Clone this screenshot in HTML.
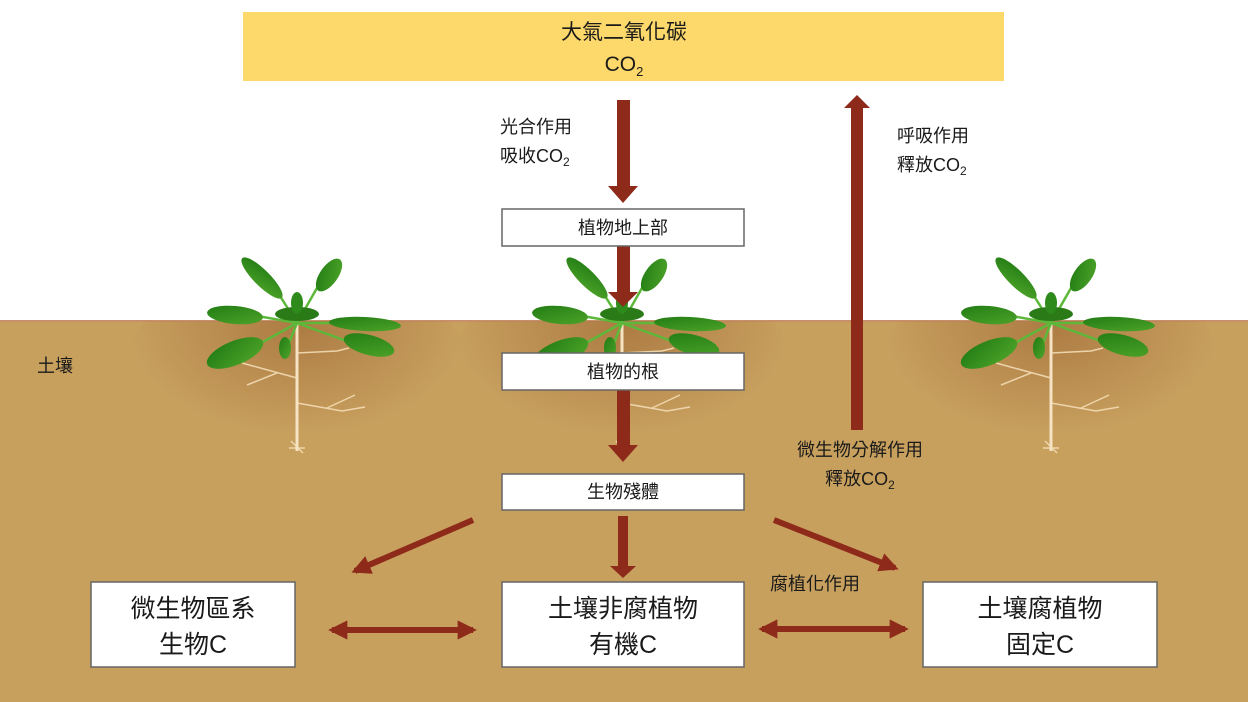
<!DOCTYPE html>
<html><head><meta charset="utf-8"><style>
html,body{margin:0;padding:0;background:#fff;}
svg{display:block;}
text{font-family:"Liberation Sans","Noto Sans CJK TC",sans-serif;fill:#1a1a1a;}
</style></head><body>
<svg width="1248" height="702" viewBox="0 0 1248 702" xmlns="http://www.w3.org/2000/svg">
<defs>
<radialGradient id="sh" cx="0.5" cy="0.3" r="0.5">
<stop offset="0" stop-color="#a8753f" stop-opacity="0.85"/>
<stop offset="1" stop-color="#a8753f" stop-opacity="0"/>
</radialGradient>
<clipPath id="soil"><rect x="0" y="321" width="1248" height="381"/></clipPath>
<linearGradient id="lf" x1="0" y1="0" x2="1" y2="1">
<stop offset="0" stop-color="#1f7a12"/><stop offset="1" stop-color="#4fa52a"/>
</linearGradient>
<g id="plant">
<g stroke="#f3dcb5" stroke-width="1.5" fill="none" opacity="0.9">
<path d="M0 30 L40 28 L52 25"/><path d="M0 55 L-55 40 M-20 50 L-50 62"/>
<path d="M0 80 L45 88 L68 84 M30 85 L58 72"/><path d="M-8 125 L8 125 M-6 118 L6 130"/>
</g>
<line x1="0" y1="0" x2="0" y2="128" stroke="#f5e3c4" stroke-width="3"/>
<g stroke="#5db83a" stroke-width="2.5" fill="none">
<path d="M0 0 L-45 -8"/><path d="M0 0 L55 0"/><path d="M0 0 L-45 25"/><path d="M0 0 L55 20"/><path d="M0 0 L-8 20"/><path d="M0 0 L-22 -35"/><path d="M0 0 L20 -35"/>
</g>
<g fill="url(#lf)">
<ellipse cx="-35" cy="-45" rx="28" ry="8" transform="rotate(45 -35 -45)"/>
<ellipse cx="32" cy="-48" rx="19" ry="9" transform="rotate(-55 32 -48)"/>
<ellipse cx="-62" cy="-8" rx="28" ry="9" transform="rotate(5 -62 -8)"/>
<ellipse cx="68" cy="1" rx="36" ry="7" transform="rotate(3 68 1)"/>
<ellipse cx="-62" cy="30" rx="30" ry="12" transform="rotate(-22 -62 30)"/>
<ellipse cx="72" cy="22" rx="26" ry="10" transform="rotate(15 72 22)"/>
<ellipse cx="-12" cy="25" rx="6" ry="11"/>
</g>
<ellipse cx="0" cy="-9" rx="22" ry="7" fill="#2a7a18"/>
<ellipse cx="0" cy="-20" rx="6" ry="11" fill="#2f8a1c"/>
</g>
<marker id="a" viewBox="0 0 10 10" refX="8" refY="5" markerWidth="3.2" markerHeight="3.2" orient="auto-start-reverse"><path d="M0 0 L10 5 L0 10 z" fill="#8e2a1a"/></marker>
</defs>
<rect x="0" y="320" width="1248" height="382" fill="#c8a05e"/>
<rect x="0" y="320" width="1248" height="2" fill="#c7906a"/>
<g clip-path="url(#soil)">
<ellipse cx="297" cy="370" rx="170" ry="110" fill="url(#sh)"/>
<ellipse cx="622" cy="370" rx="170" ry="110" fill="url(#sh)"/>
<ellipse cx="1051" cy="370" rx="170" ry="110" fill="url(#sh)"/>
</g>
<use href="#plant" x="297" y="323"/>
<use href="#plant" x="622" y="323"/>
<use href="#plant" x="1051" y="323"/>
<rect x="243" y="12" width="761" height="69" fill="#fdd86a"/>
<text x="624" y="39" font-size="21" text-anchor="middle">大氣二氧化碳</text>
<text x="624" y="71" font-size="21" text-anchor="middle">CO<tspan font-size="13" dy="5">2</tspan></text>
<g fill="#8e2a1a">
<path d="M617 100 H630 V186 H638 L623 203 L608 186 H617 Z"/>
<path d="M851 430 H863 V108 H870 L857 95 L844 108 H851 Z"/>
<path d="M617 246 H630 V292 H638 L623 307 L608 292 H617 Z"/>
<path d="M617 390 H630 V445 H638 L623 462 L608 445 H617 Z"/>
<path d="M618 516 H628 V566 H636 L623 578 L610 566 H618 Z"/>
</g>
<g stroke="#8e2a1a" stroke-width="6" fill="none" marker-end="url(#a)">
<line x1="473" y1="520" x2="355" y2="571"/>
<line x1="774" y1="520" x2="895" y2="568"/>
</g>
<g stroke="#8e2a1a" stroke-width="6" fill="none" marker-end="url(#a)" marker-start="url(#a)">
<line x1="332" y1="630" x2="473" y2="630"/>
<line x1="762" y1="629" x2="905" y2="629"/>
</g>
<g fill="#fff" stroke="#666" stroke-width="1.5">
<rect x="502" y="209" width="242" height="37"/>
<rect x="502" y="353" width="242" height="37"/>
<rect x="502" y="474" width="242" height="36"/>
<rect x="91" y="582" width="204" height="85"/>
<rect x="502" y="582" width="242" height="85"/>
<rect x="923" y="582" width="234" height="85"/>
</g>
<g font-size="18" text-anchor="middle">
<text x="623" y="234">植物地上部</text>
<text x="623" y="378">植物的根</text>
<text x="623" y="498">生物殘體</text>
</g>
<g font-size="25" text-anchor="middle">
<text x="193" y="617">微生物區系</text><text x="193" y="653">生物C</text>
<text x="623" y="617">土壤非腐植物</text><text x="623" y="653">有機C</text>
<text x="1040" y="617">土壤腐植物</text><text x="1040" y="653">固定C</text>
</g>
<g font-size="18">
<text x="500" y="133">光合作用</text>
<text x="500" y="162">吸收CO<tspan font-size="12" dy="4">2</tspan></text>
<text x="897" y="142">呼吸作用</text>
<text x="897" y="171">釋放CO<tspan font-size="12" dy="4">2</tspan></text>
<text x="860" y="456" text-anchor="middle">微生物分解作用</text>
<text x="860" y="485" text-anchor="middle">釋放CO<tspan font-size="12" dy="4">2</tspan></text>
<text x="770" y="590">腐植化作用</text>
<text x="37" y="372">土壤</text>
</g>
</svg>
</body></html>
